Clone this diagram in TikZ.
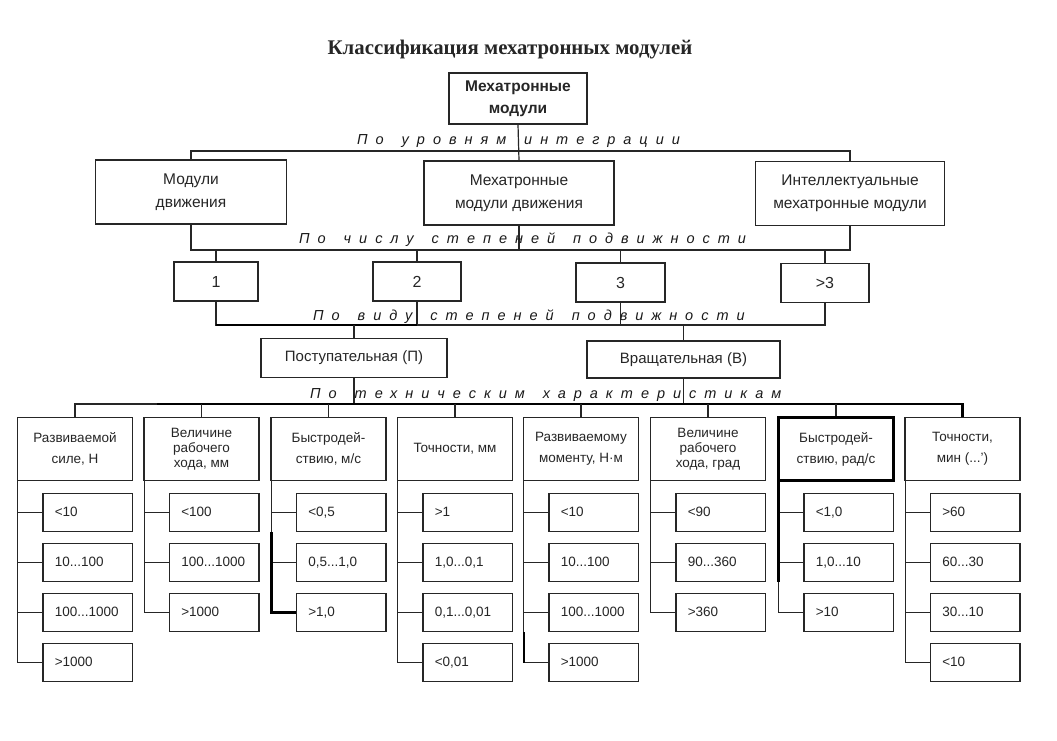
\documentclass[tikz,border=0pt]{standalone}
\usepackage{fontspec}
\setmainfont{Liberation Sans}
\setsansfont{Liberation Sans}
\newfontfamily\titfont{Liberation Serif}
\newfontfamily\labfont[LetterSpace=55,WordSpace=1.5]{Liberation Sans Italic}
\begin{document}
\begin{tikzpicture}[x=1pt,y=-1pt,
  box/.style={draw=black!85, line width=1.3pt, inner sep=0pt, align=center, text=black!85},
  rootbox/.style={box, minimum width=138pt, minimum height=51pt, font=\bfseries\fontsize{15.5}{22}\selectfont},
  lvtwo/.style={box, minimum height=64pt, font=\fontsize{15.5}{23}\selectfont},
  lvthree/.style={box, minimum height=39pt, font=\fontsize{16}{18}\selectfont},
  lvfour/.style={box, minimum height=39pt, font=\fontsize{15}{18}\selectfont},
  hdr/.style={box, minimum width=115pt, minimum height=63pt, font=\fontsize{13.5}{21}\selectfont},
  hdrthree/.style={hdr, font=\fontsize{13.5}{15}\selectfont},
  sub/.style={box, minimum height=38pt, text width=66pt, text height=10pt, text depth=3pt, inner xsep=11.75pt, align=left, font=\fontsize{13.5}{16}\selectfont},
  conn/.style={draw=black!85, line width=1.2pt},
  heavy/.style={draw=black, line width=2.6pt},
  lab/.style={font=\labfont\fontsize{14.5}{14.5}\selectfont, anchor=base west, inner sep=0pt, text=black!90}
]
\useasboundingbox[fill=white] (0,0) rectangle (1057,741);

% title
\node[font=\titfont\bfseries\fontsize{20.8}{20.8}\selectfont, anchor=base, text=black!85] (title) at (510,55) {Классификация мехатронных модулей};

% level 1
\node[rootbox] (root) at (518,98.5) {Мехатронные\\модули};

% level 2
\node[lvtwo, minimum width=191pt] (A) at (191,192) {Модули\\движения};
\node[lvtwo, minimum width=190pt] (B) at (519,193) {Мехатронные\\модули движения};
\node[lvtwo, minimum width=189pt] (C) at (850,193.5) {Интеллектуальные\\мехатронные модули};

% level 3
\node[lvthree, minimum width=84pt] (n1) at (216,281.5) {1};
\node[lvthree, minimum width=88pt] (n2) at (417,281.5) {2};
\node[lvthree, minimum width=89pt] (n3) at (620.5,282.5) {3};
\node[lvthree, minimum width=88pt] (n4) at (825,283) {>3};

% level 4
\node[lvfour, minimum width=186pt] (P) at (354,358) {Поступательная (П)};
\node[lvfour, minimum width=193pt, minimum height=37pt] (V) at (683.5,359.5) {Вращательная (В)};

% headers
\node[hdr] (h1) at (75,449) {Развиваемой\\силе, Н};
\node[hdrthree] (h2) at (201.5,449) {Величине\\рабочего\\хода, мм};
\node[hdr] (h3) at (328.5,449) {Быстродей-\\ствию, м/с};
\node[hdr] (h4) at (455,449) {Точности, мм};
\node[hdr] (h5) at (581,449) {Развиваемому\\моменту, Н·м};
\node[hdrthree] (h6) at (708,449) {Величине\\рабочего\\хода, град};
\node[hdr, line width=2.6pt, draw=black] (h7) at (836,449) {Быстродей-\\ствию, рад/с};
\node[hdr] (h8) at (962.5,449) {Точности,\\мин (...')};

% sub boxes
\node[sub] (s1-1) at (87.75,512.5) {<10};
\node[sub] (s1-2) at (87.75,562.5) {10...100};
\node[sub] (s1-3) at (87.75,612.5) {100...1000};
\node[sub] (s1-4) at (87.75,662.5) {>1000};

\node[sub] (s2-1) at (214.25,512.5) {<100};
\node[sub] (s2-2) at (214.25,562.5) {100...1000};
\node[sub] (s2-3) at (214.25,612.5) {>1000};

\node[sub] (s3-1) at (341.25,512.5) {<0,5};
\node[sub] (s3-2) at (341.25,562.5) {0,5...1,0};
\node[sub] (s3-3) at (341.25,612.5) {>1,0};

\node[sub] (s4-1) at (467.75,512.5) {>1};
\node[sub] (s4-2) at (467.75,562.5) {1,0...0,1};
\node[sub] (s4-3) at (467.75,612.5) {0,1...0,01};
\node[sub] (s4-4) at (467.75,662.5) {<0,01};

\node[sub] (s5-1) at (593.75,512.5) {<10};
\node[sub] (s5-2) at (593.75,562.5) {10...100};
\node[sub] (s5-3) at (593.75,612.5) {100...1000};
\node[sub] (s5-4) at (593.75,662.5) {>1000};

\node[sub] (s6-1) at (720.75,512.5) {<90};
\node[sub] (s6-2) at (720.75,562.5) {90...360};
\node[sub] (s6-3) at (720.75,612.5) {>360};

\node[sub] (s7-1) at (848.75,512.5) {<1,0};
\node[sub] (s7-2) at (848.75,562.5) {1,0...10};
\node[sub] (s7-3) at (848.75,612.5) {>10};

\node[sub] (s8-1) at (975.25,512.5) {>60};
\node[sub] (s8-2) at (975.25,562.5) {60...30};
\node[sub] (s8-3) at (975.25,612.5) {30...10};
\node[sub] (s8-4) at (975.25,662.5) {<10};

% bus coordinates
\coordinate (b1) at (0,151);
\coordinate (b2) at (0,250);
\coordinate (b3) at (0,325);
\coordinate (b4) at (0,404);
\coordinate (b4s) at (157,404);

% level 1 -> 2
\draw[conn] (root.south) -- (B.north);
\draw[conn] (A.north) -- (A.north |- b1) -- (C.north |- b1) -- (C.north);

% level 2 -> 3
\draw[conn] (A.south) -- (A.south |- b2) -- (C.south |- b2) -- (C.south);
\draw[conn] (B.south) -- (B.south |- b2);
\foreach \n in {n1,n2,n3,n4} \draw[conn] (\n.north) -- (\n.north |- b2);

% level 3 -> 4
\draw[conn] (n1.south) -- (n1.south |- b3) -- (n4.south |- b3) -- (n4.south);
\draw[conn] (n2.south) -- (n2.south |- b3);
\draw[conn] (n3.south) -- (n3.south |- b3);
\draw[heavy, line width=2.2pt] (n1.south |- b3) -- (n2.south |- b3);
\draw[conn] (P.north) -- (P.north |- b3);
\draw[conn] (V.north) -- (V.north |- b3);

% level 4 -> 5
\draw[conn] (P.south) -- (P.south |- b4);
\draw[conn] (V.south) -- (V.south |- b4);
\draw[conn] (h1.north) -- (h1.north |- b4) -- (h8.north |- b4) -- (h8.north);
\draw[heavy] (b4s) -- (h8.north |- b4) -- (h8.north);
\foreach \h in {h2,h3,h4,h5,h6,h7} \draw[conn] (\h.north) -- (\h.north |- b4);

% column connectors
\foreach \c in {1,...,8} \path ([xshift=1pt]h\c.south west) coordinate (v\c);
\foreach \c/\m in {1/4,2/3,3/3,4/4,5/4,6/3,7/3,8/4}
  \foreach \j in {1,...,\m} \draw[conn] (v\c) |- (s\c-\j.west);
\draw[heavy] (v3 |- s3-1.south) -- (v3 |- s3-3.west) -- (s3-3.west);
\draw[heavy] (v7) -- (v7 |- s7-2.south);
\draw[heavy] (v5 |- s5-3.south) -- (v5 |- s5-4.west);

% labels
\node[lab] (l1) at (357,145) {По уровням интеграции};
\node[lab] (l2) at (299,243) {По числу степеней подвижности};
\node[lab] (l3) at (313,320) {По виду степеней подвижности};
\node[lab] (l4) at (310,398) {По техническим характеристикам};
\end{tikzpicture}
\end{document}
